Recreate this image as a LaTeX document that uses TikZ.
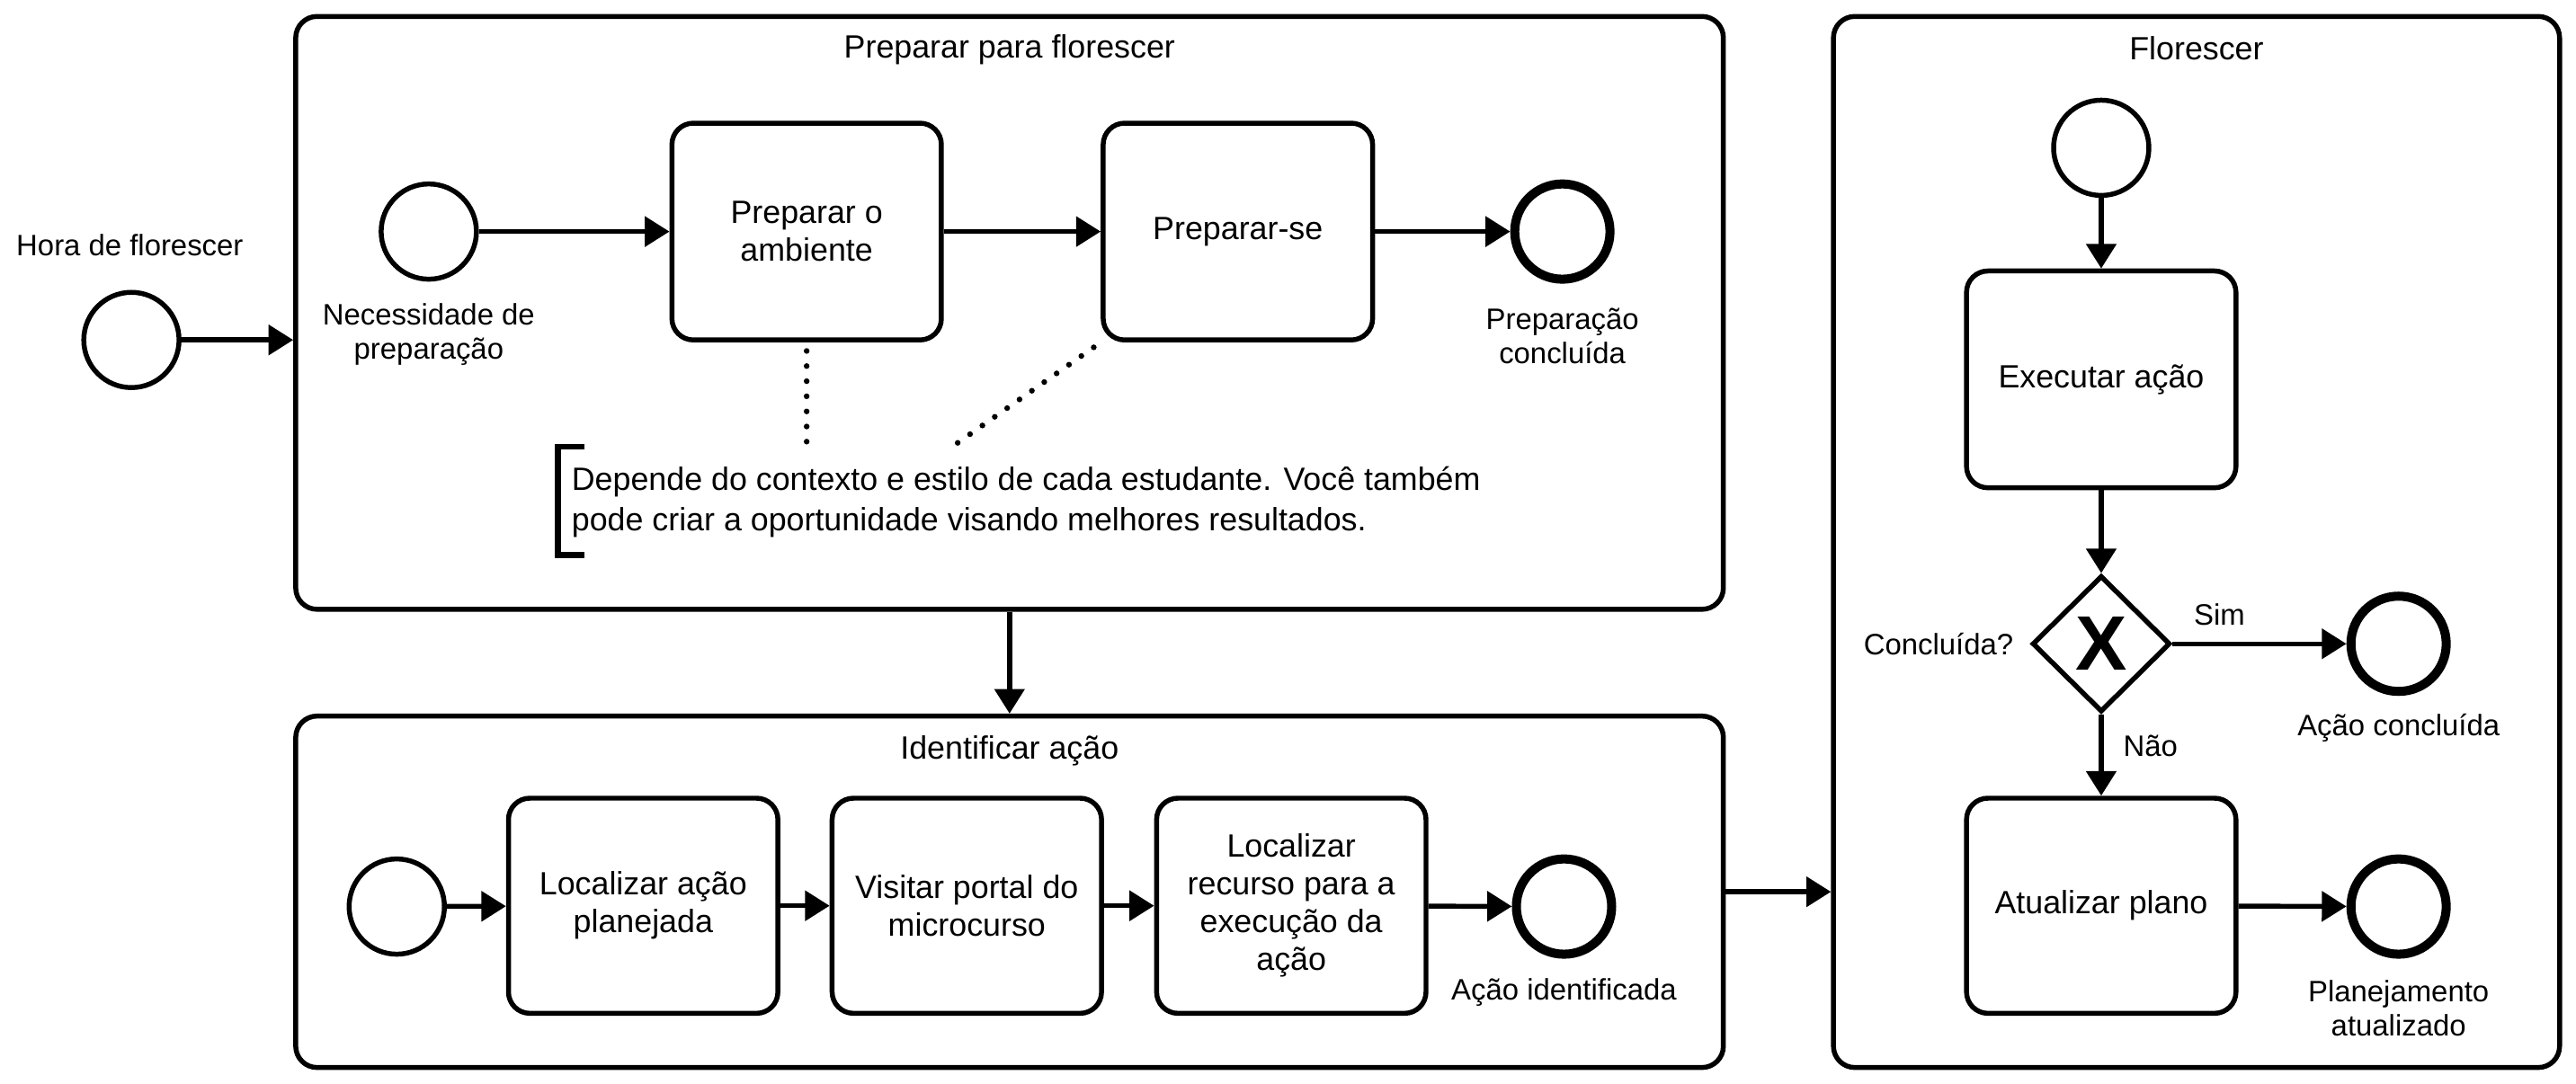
\documentclass[tikz,border=0pt]{standalone}
\usepackage{fontspec}
\setmainfont{Liberation Sans}
\usetikzlibrary{shapes.geometric,arrows.meta}
\newcommand{\bpmnbig}{\fontsize{19.6}{23}\selectfont}
\newcommand{\bpmnsmall}{\fontsize{18}{21}\selectfont}
\begin{document}
\begin{tikzpicture}[x=1pt,y=-1pt,
  every node/.style={inner sep=0pt, outer sep=0pt},
  pool/.style={draw, line width=3pt, rounded corners=13pt, outer sep=1.5pt},
  pooltitle/.style={font=\bpmnbig},
  task/.style={draw, line width=3pt, rounded corners=13pt, minimum width=164pt, minimum height=132pt, align=center, outer sep=1.5pt, font=\bpmnbig},
  startev/.style={circle, draw, line width=3pt, minimum size=58pt, outer sep=1.5pt},
  endev/.style={circle, draw, line width=5.5pt, minimum size=58pt, outer sep=2.75pt},
  gwbox/.style={diamond, draw, line width=3pt, minimum width=84pt, minimum height=83pt, outer sep=1.5pt, font=\fontsize{47}{47}\selectfont\bfseries},
  lbl/.style={font=\bpmnsmall, align=center},
  annotext/.style={font=\fontsize{19.6}{24.5}\selectfont, align=left},
  flow/.style={line width=3pt, -{Triangle[length=15pt,width=18pt]}},
  assoc/.style={line width=3.5pt, line cap=round, dash pattern=on 0pt off 9.2pt, dash phase=4pt},
  bracketline/.style={line width=3.5pt}
]
\useasboundingbox (0,0) rectangle (1568,660);

% pools
\node[pool, minimum width=869pt, minimum height=361pt] (pool1) at (614.5,190.5) {};
\node[pool, minimum width=869pt, minimum height=214pt] (pool2) at (614.5,543) {};
\node[pool, minimum width=442pt, minimum height=640pt] (pool3) at (1337,330) {};
\node[pooltitle] (pool1t) at (614.5,30) {Preparar para florescer};
\node[pooltitle] (pool2t) at (614.5,457) {Identificar ação};
\node[pooltitle] (pool3t) at (1337,29.5) {Florescer};

% outside start
\node[startev] (hora) at (80,207) {};
\node[lbl] (horal) at (79,149) {Hora de florescer};

% pool 1
\node[startev] (s1) at (261,141) {};
\node[lbl] (s1l) at (261,203.5) {Necessidade de\\preparação};
\node[task] (b1) at (491,141) {Preparar o\\ambiente};
\node[task] (b2) at (753.5,141) {Preparar-se};
\node[endev] (e1) at (951,141) {};
\node[lbl] (e1l) at (951,204.5) {Preparação\\concluída};

% annotation
\node[annotext, anchor=west] (ann) at (348,305.5) {Depende do contexto e estilo de cada estudante. Você também\\pode criar a oportunidade visando melhores resultados.};
\draw[bracketline] (356,272) -- (339.5,272) -- (339.5,338) -- (356,338);
\coordinate (a1) at (491,270);
\coordinate (a2) at (581,271);
\draw[assoc] (b1.south) -- (a1);
\draw[assoc] (b2.south west) -- (a2);

% pool 2
\node[startev] (s2) at (241.5,552) {};
\node[task, minimum height=131pt] (t1) at (391.5,551.5) {Localizar ação\\planejada};
\node[task, minimum height=131pt] (t2) at (588.5,551.5) {Visitar portal do\\microcurso};
\node[task, minimum height=131pt] (t3) at (786,551.5) {Localizar\\recurso para a\\execução da\\ação};
\node[endev] (e2) at (952,552) {};
\node[lbl] (e2l) at (952,604) {Ação identificada};

% pool 3
\node[startev] (s3) at (1279,90) {};
\node[task] (ex) at (1279,231) {Executar ação};
\node[gwbox] (gw) at (1279,392) {X};
\node[lbl] (gwl) at (1180,392) {Concluída?};
\node[endev] (e3) at (1460,392) {};
\node[lbl] (e3l) at (1460,443.5) {Ação concluída};
\node[task, minimum height=131pt] (up) at (1279,551.5) {Atualizar plano};
\node[endev] (e4) at (1460,552) {};
\node[lbl] (e4l) at (1460,614) {Planejamento\\atualizado};
\node[lbl] (siml) at (1351,374) {Sim};
\node[lbl] (naol) at (1309,454) {Não};

% flows
\draw[flow] (hora) -- (hora -| pool1.west);
\draw[flow] (s1) -- (b1);
\draw[flow] (b1) -- (b2);
\draw[flow] (b2) -- (e1);
\draw[flow] (pool1) -- (pool2);
\draw[flow] (s2) -- (t1);
\draw[flow] (t1) -- (t2);
\draw[flow] (t2) -- (t3);
\draw[flow] (t3) -- (e2);
\draw[flow] (pool2.east) -- (pool2.east -| pool3.west);
\draw[flow] (s3) -- (ex);
\draw[flow] (ex) -- (gw);
\draw[flow] (gw) -- (e3);
\draw[flow] (gw) -- (up);
\draw[flow] (up) -- (e4);
\end{tikzpicture}
\end{document}
